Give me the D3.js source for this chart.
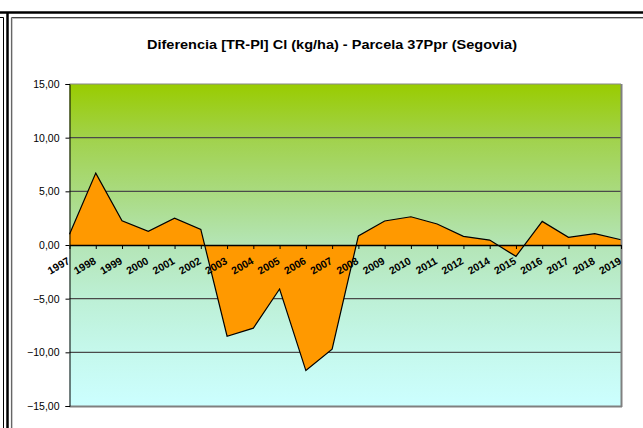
<!DOCTYPE html>
<html><head><meta charset="utf-8">
<script src="https://cdn.jsdelivr.net/npm/d3@7"></script>
<style>body{margin:0;background:#fff;}svg{display:block;font-family:"Liberation Sans",Arial,sans-serif;}</style>
</head><body>
<script>
const title = "Diferencia [TR-PI] Cl (kg/ha) - Parcela 37Ppr (Segovia)";
const years = ["1997","1998","1999","2000","2001","2002","2003","2004","2005","2006","2007","2008","2009","2010","2011","2012","2014","2015","2016","2017","2018","2019"];
const values = [1.0,6.7,2.25,1.27,2.5,1.45,-8.5,-7.75,-4.1,-11.7,-9.7,0.85,2.24,2.63,1.96,0.8,0.46,-1.06,2.2,0.72,1.05,0.49];
const yTicks = [-15,-10,-5,0,5,10,15];

const W=643,H=428;
const svg=d3.select("body").append("svg").attr("width",W).attr("height",H);

// frames
svg.append("line").attr("x1",0).attr("x2",W).attr("y1",12.5).attr("y2",12.5).attr("stroke","#000").attr("stroke-width",2.5);
svg.append("line").attr("x1",0).attr("x2",3.5).attr("y1",17.5).attr("y2",17.5).attr("stroke","#000").attr("stroke-width",1);
svg.append("line").attr("x1",3.5).attr("x2",3.5).attr("y1",17.5).attr("y2",H).attr("stroke","#000").attr("stroke-width",1);
svg.append("line").attr("x1",7.5).attr("x2",7.5).attr("y1",12).attr("y2",H).attr("stroke","#000").attr("stroke-width",2.5);
svg.append("line").attr("x1",11.5).attr("x2",W).attr("y1",17.5).attr("y2",17.5).attr("stroke","#444").attr("stroke-width",1.2);
svg.append("line").attr("x1",11.5).attr("x2",W).attr("y1",18.5).attr("y2",18.5).attr("stroke","#bbb").attr("stroke-width",1);
svg.append("line").attr("x1",11.5).attr("x2",11.5).attr("y1",17.5).attr("y2",H).attr("stroke","#666").attr("stroke-width",1.2);
svg.append("line").attr("x1",12.5).attr("x2",12.5).attr("y1",18.5).attr("y2",H).attr("stroke","#ccc").attr("stroke-width",1);

const L=69.5,R=621,T=84,B=406;
const x=d3.scalePoint().domain(years).range([L,R]);
const y=d3.scaleLinear().domain([-15,15]).range([B,T]);

const defs=svg.append("defs");
const g=defs.append("linearGradient").attr("id","bg").attr("x1",0).attr("x2",0).attr("y1",0).attr("y2",1);
[[0,"#99cc00"],[0.17,"#a1d24c"],[0.33,"#a9da7e"],[0.5,"#b4e5b6"],[0.67,"#bdf0d6"],[0.83,"#c5f8ec"],[1,"#ccffff"]]
 .forEach(s=>g.append("stop").attr("offset",s[0]).attr("stop-color",s[1]));

svg.append("rect").attr("x",L).attr("y",T).attr("width",R-L).attr("height",B-T).attr("fill","url(#bg)");

// gridlines
svg.append("g").selectAll("line").data(yTicks.filter(d=>d!==0&&d!==15&&d!==-15)).join("line")
 .attr("x1",L).attr("x2",R).attr("y1",d=>y(d)).attr("y2",d=>y(d)).attr("stroke","#4a4a4a").attr("stroke-width",1.3);

// area
const area=d3.area().x((d,i)=>x(years[i])).y0(y(0)).y1(d=>y(d));
const line=d3.line().x((d,i)=>x(years[i])).y(d=>y(d));
svg.append("path").datum(values).attr("d",area).attr("fill","#ff9900");
svg.append("path").datum(values).attr("d",line).attr("fill","none").attr("stroke","#000").attr("stroke-width",1.2);

// plot border
svg.append("line").attr("x1",L).attr("x2",R).attr("y1",T).attr("y2",T).attr("stroke","#888").attr("stroke-width",1.2);
svg.append("line").attr("x1",R+0.5).attr("x2",R+0.5).attr("y1",T).attr("y2",B+1).attr("stroke","#808080").attr("stroke-width",2);
svg.append("line").attr("x1",L).attr("x2",R+1).attr("y1",B+0.5).attr("y2",B+0.5).attr("stroke","#808080").attr("stroke-width",2);

// y axis
const ya=d3.axisLeft(y).tickValues(yTicks).tickSize(4).tickFormat(d=>d3.format(".2f")(d).replace(".",","));
const yg=svg.append("g").attr("transform",`translate(${L},0)`).call(ya);
yg.select(".domain").attr("stroke","#000");
yg.selectAll(".tick line").attr("stroke","#000");
yg.selectAll("text").attr("font-size",10.5).attr("fill","#000").attr("font-family","Liberation Sans, Arial, sans-serif").attr("dx",-3);

// x axis at 0
const xa=d3.axisBottom(x).tickSize(4).tickSizeOuter(0).tickFormat("");
const xg=svg.append("g").attr("transform",`translate(0,${y(0)})`).call(xa);
xg.select(".domain").attr("stroke","#000").attr("stroke-width",1.6);
xg.selectAll(".tick line").attr("stroke","#000");

svg.append("g").selectAll("text").data(years).join("text")
 .attr("transform",d=>`translate(${x(d)+1},${y(0)+18}) rotate(-30)`)
 .attr("text-anchor","end").attr("font-size",10.5).attr("font-weight","bold").text(d=>d);

svg.append("text").attr("x",332).attr("y",49).attr("text-anchor","middle").attr("font-size",12.5).attr("font-weight","bold")
 .attr("textLength",370).attr("lengthAdjust","spacingAndGlyphs").text(title);
</script>
</body></html>
